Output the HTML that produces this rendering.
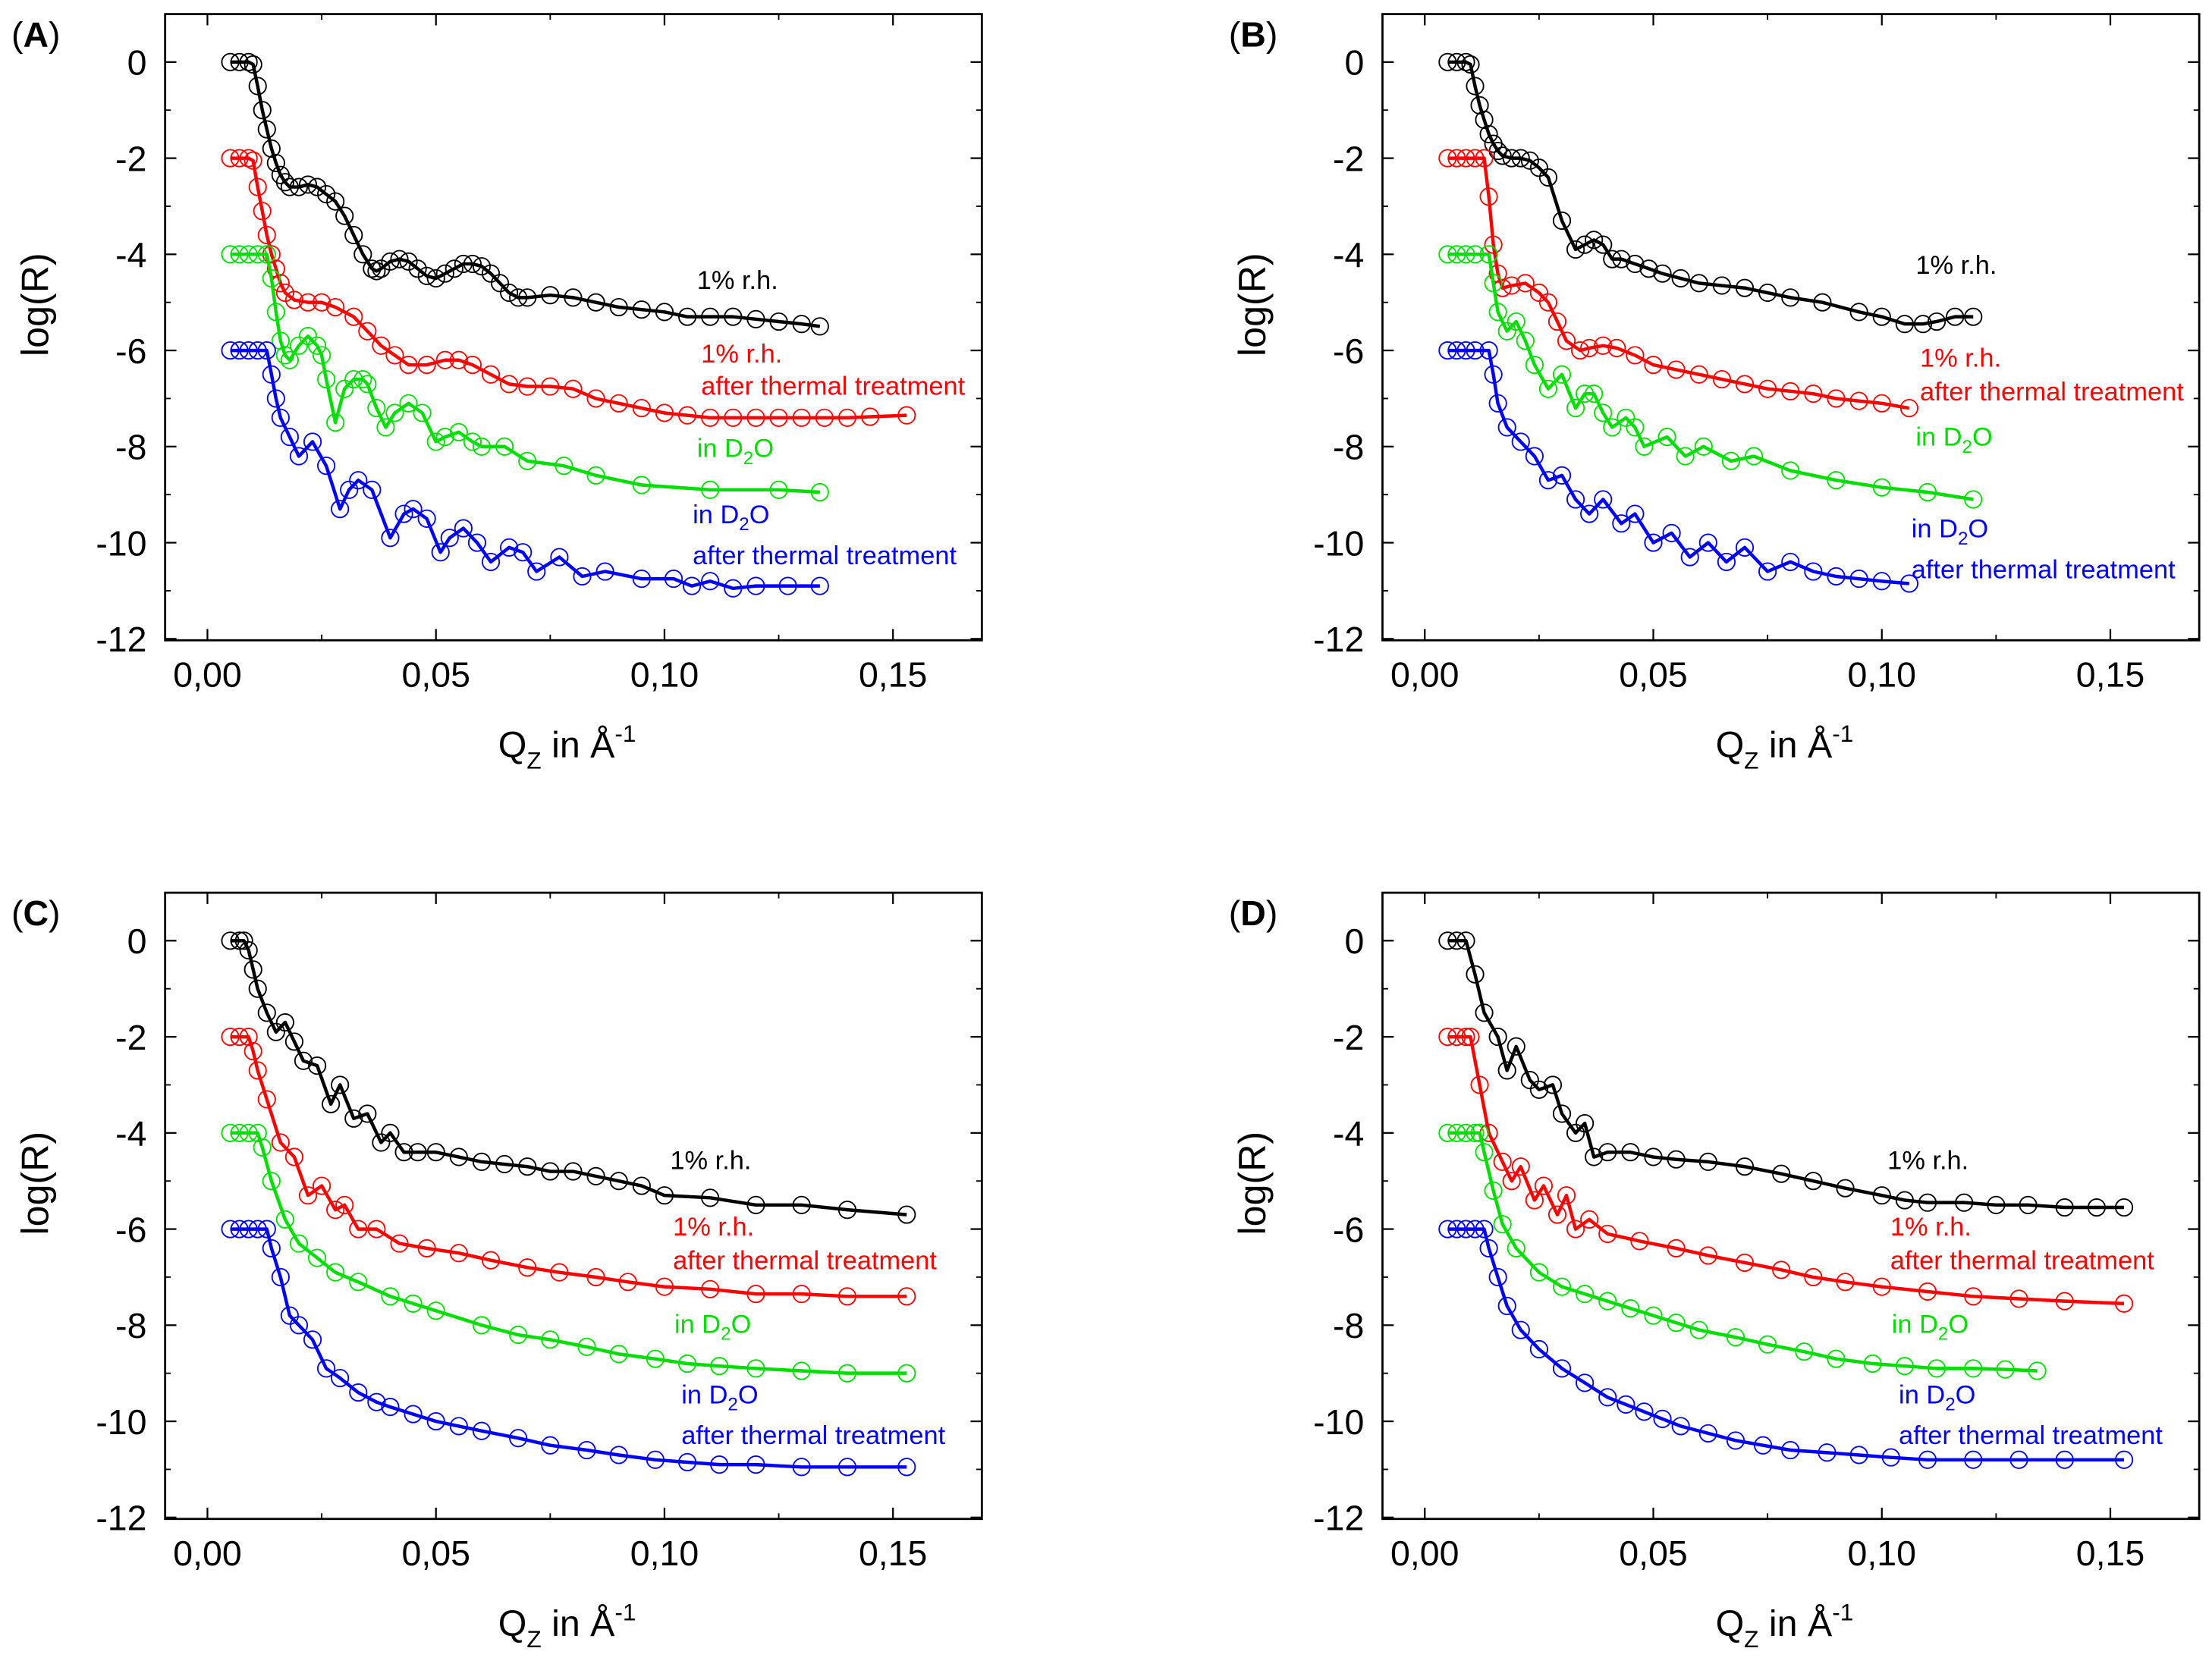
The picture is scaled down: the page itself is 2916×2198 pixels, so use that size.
<!DOCTYPE html>
<html><head><meta charset="utf-8">
<style>html,body{margin:0;padding:0;background:#fff}svg{display:block}text{font-family:"Liberation Sans",Arial,sans-serif}</style>
</head><body>
<svg id="fig" xmlns="http://www.w3.org/2000/svg" width="2916" height="2198" viewBox="0 0 1568 1182"></svg>
<script>
// Panel A data
const qA_k=[.005,.007,.009,.010,.011,.012,.013,.014,.015,.016,.017,.018,.020,.022,.024,.026,.028,.030,.032,.034,.036,.037,.038,.040,.042,.044,.046,.048,.050,.052,.054,.056,.058,.060,.062,.064,.066,.068,.070,.075,.080,.085,.090,.095,.100,.105,.110,.115,.120,.125,.130,.134];
const vA_k=[0,0,0,-0.05,-0.5,-1.0,-1.4,-1.8,-2.1,-2.35,-2.5,-2.6,-2.6,-2.55,-2.6,-2.75,-2.9,-3.2,-3.6,-4.0,-4.3,-4.35,-4.3,-4.15,-4.1,-4.15,-4.3,-4.45,-4.5,-4.4,-4.3,-4.2,-4.2,-4.25,-4.4,-4.6,-4.8,-4.9,-4.9,-4.85,-4.9,-5.0,-5.1,-5.15,-5.2,-5.3,-5.3,-5.3,-5.35,-5.4,-5.45,-5.5];
const qA_r=[.005,.007,.009,.010,.011,.012,.013,.014,.015,.016,.017,.019,.022,.025,.028,.032,.035,.038,.041,.044,.048,.052,.055,.058,.062,.066,.070,.075,.080,.085,.090,.095,.100,.105,.110,.115,.120,.125,.130,.135,.140,.145,.153];
const vA_r=[-2,-2,-2,-2.05,-2.6,-3.1,-3.6,-4.0,-4.3,-4.6,-4.8,-4.95,-5.0,-5.0,-5.1,-5.3,-5.6,-5.9,-6.1,-6.3,-6.3,-6.2,-6.2,-6.3,-6.5,-6.7,-6.75,-6.75,-6.8,-7.0,-7.1,-7.2,-7.3,-7.35,-7.4,-7.4,-7.4,-7.4,-7.4,-7.4,-7.4,-7.38,-7.35];
const qA_g=[.005,.007,.009,.011,.013,.014,.015,.016,.017,.018,.020,.022,.024,.025,.026,.028,.030,.032,.034,.035,.037,.039,.041,.044,.047,.050,.052,.055,.058,.060,.065,.070,.078,.085,.095,.110,.125,.134];
const vA_g=[-4,-4,-4,-4,-4,-4.5,-5.2,-5.8,-6.1,-6.2,-5.9,-5.7,-5.9,-6.1,-6.6,-7.5,-6.8,-6.6,-6.6,-6.7,-7.2,-7.6,-7.3,-7.1,-7.3,-7.9,-7.8,-7.7,-7.9,-8.0,-8.0,-8.3,-8.4,-8.6,-8.8,-8.9,-8.9,-8.95];
const qA_b=[.005,.007,.009,.011,.013,.014,.015,.016,.018,.020,.023,.026,.029,.031,.033,.036,.040,.043,.045,.048,.051,.053,.056,.059,.062,.066,.069,.072,.077,.082,.087,.095,.102,.106,.110,.115,.120,.127,.134];
const vA_b=[-6,-6,-6,-6,-6,-6.5,-7.0,-7.4,-7.8,-8.2,-7.9,-8.4,-9.3,-8.9,-8.7,-8.9,-9.9,-9.4,-9.3,-9.5,-10.2,-9.9,-9.7,-10.0,-10.4,-10.1,-10.2,-10.6,-10.3,-10.7,-10.6,-10.75,-10.75,-10.9,-10.8,-10.95,-10.9,-10.9,-10.9];
// Panel B data
const qB_k=[.005,.007,.009,.010,.011,.012,.013,.014,.015,.016,.017,.019,.021,.023,.025,.027,.030,.033,.035,.037,.039,.041,.043,.046,.049,.052,.056,.060,.065,.070,.075,.080,.087,.095,.100,.105,.109,.112,.116,.120];
const vB_k=[0,0,0,-0.05,-0.5,-0.9,-1.2,-1.5,-1.7,-1.85,-1.95,-2.0,-2.0,-2.05,-2.2,-2.4,-3.3,-3.9,-3.8,-3.7,-3.8,-4.1,-4.1,-4.2,-4.3,-4.4,-4.5,-4.6,-4.65,-4.7,-4.8,-4.9,-5.0,-5.2,-5.3,-5.45,-5.45,-5.4,-5.3,-5.3];
const qB_r=[.005,.007,.009,.011,.013,.014,.015,.016,.017,.019,.022,.025,.027,.029,.031,.034,.036,.039,.042,.046,.050,.055,.060,.065,.070,.075,.080,.085,.090,.095,.100,.106];
const vB_r=[-2,-2,-2,-2,-2,-2.8,-3.8,-4.4,-4.7,-4.65,-4.6,-4.8,-5.0,-5.4,-5.8,-6.0,-5.95,-5.9,-5.95,-6.1,-6.3,-6.4,-6.5,-6.6,-6.7,-6.8,-6.85,-6.9,-7.0,-7.05,-7.1,-7.2];
const qB_g=[.005,.007,.009,.011,.014,.015,.016,.018,.020,.022,.024,.027,.030,.033,.035,.037,.039,.041,.044,.046,.048,.053,.057,.061,.067,.072,.080,.090,.100,.110,.120];
const vB_g=[-4,-4,-4,-4,-4,-4.6,-5.2,-5.6,-5.4,-5.8,-6.3,-6.8,-6.5,-7.2,-6.9,-6.9,-7.3,-7.6,-7.4,-7.6,-8.0,-7.8,-8.2,-8.0,-8.3,-8.2,-8.5,-8.7,-8.85,-8.95,-9.1];
const qB_b=[.005,.007,.009,.011,.014,.015,.016,.018,.021,.024,.027,.030,.033,.036,.039,.043,.046,.050,.054,.058,.062,.066,.070,.075,.080,.085,.090,.095,.100,.106];
const vB_b=[-6,-6,-6,-6,-6,-6.5,-7.1,-7.6,-7.9,-8.2,-8.7,-8.6,-9.1,-9.4,-9.1,-9.6,-9.4,-10.0,-9.8,-10.3,-10.0,-10.4,-10.1,-10.6,-10.4,-10.6,-10.7,-10.75,-10.8,-10.85];
// Panel C data
const qC_k=[.005,.007,.008,.009,.010,.011,.013,.015,.017,.019,.021,.024,.027,.029,.032,.035,.038,.040,.043,.046,.050,.055,.060,.065,.070,.075,.080,.085,.090,.095,.100,.110,.120,.130,.140,.153];
const vC_k=[0,0,0,-0.2,-0.6,-1.0,-1.5,-1.9,-1.7,-2.1,-2.5,-2.6,-3.4,-3.0,-3.7,-3.6,-4.2,-4.0,-4.4,-4.4,-4.4,-4.5,-4.6,-4.65,-4.7,-4.8,-4.8,-4.9,-5.0,-5.1,-5.3,-5.35,-5.5,-5.5,-5.6,-5.7];
const qC_r=[.005,.007,.009,.010,.011,.013,.016,.019,.022,.025,.028,.030,.033,.037,.042,.048,.055,.062,.070,.077,.085,.092,.100,.110,.120,.130,.140,.153];
const vC_r=[-2,-2,-2,-2.3,-2.7,-3.3,-4.2,-4.5,-5.3,-5.1,-5.6,-5.5,-6.0,-6.0,-6.3,-6.4,-6.5,-6.65,-6.8,-6.9,-7.0,-7.1,-7.2,-7.25,-7.35,-7.35,-7.4,-7.4];
const qC_g=[.005,.007,.009,.011,.012,.014,.017,.020,.024,.028,.033,.040,.045,.050,.060,.068,.075,.083,.090,.098,.105,.112,.120,.130,.140,.153];
const vC_g=[-4,-4,-4,-4,-4.3,-5.0,-5.8,-6.3,-6.6,-6.9,-7.1,-7.4,-7.55,-7.7,-8.0,-8.2,-8.3,-8.45,-8.6,-8.7,-8.8,-8.85,-8.9,-8.95,-9.0,-9.0];
const qC_b=[.005,.007,.009,.011,.013,.014,.016,.018,.020,.023,.026,.029,.033,.037,.040,.045,.050,.055,.060,.068,.075,.083,.090,.098,.105,.112,.120,.130,.140,.153];
const vC_b=[-6,-6,-6,-6,-6,-6.4,-7.0,-7.8,-8.0,-8.3,-8.9,-9.1,-9.4,-9.6,-9.7,-9.85,-10.0,-10.1,-10.2,-10.35,-10.5,-10.6,-10.7,-10.8,-10.85,-10.9,-10.9,-10.95,-10.95,-10.95];
// Panel D data
const qD_k=[.005,.007,.009,.011,.013,.016,.018,.020,.023,.025,.028,.030,.033,.035,.037,.040,.045,.050,.055,.062,.070,.078,.085,.092,.100,.105,.110,.118,.125,.132,.140,.147,.153];
const vD_k=[0,0,0,-0.7,-1.5,-2.0,-2.7,-2.2,-2.9,-3.1,-3.0,-3.6,-4.0,-3.8,-4.5,-4.4,-4.4,-4.5,-4.55,-4.6,-4.7,-4.85,-5.0,-5.15,-5.3,-5.4,-5.45,-5.45,-5.5,-5.5,-5.55,-5.55,-5.55];
const qD_r=[.005,.007,.009,.010,.012,.014,.017,.019,.021,.024,.026,.029,.031,.033,.036,.040,.047,.055,.062,.070,.078,.085,.092,.100,.110,.120,.130,.140,.153];
const vD_r=[-2,-2,-2,-2,-3.0,-4.0,-4.6,-5.0,-4.7,-5.4,-5.1,-5.7,-5.3,-6.0,-5.8,-6.1,-6.25,-6.4,-6.55,-6.7,-6.85,-7.0,-7.1,-7.2,-7.3,-7.4,-7.45,-7.5,-7.55];
const qD_g=[.005,.007,.009,.011,.012,.013,.015,.017,.020,.025,.030,.035,.040,.045,.050,.055,.060,.068,.075,.083,.090,.098,.105,.112,.120,.127,.134];
const vD_g=[-4,-4,-4,-4,-4,-4.4,-5.2,-5.9,-6.4,-6.9,-7.2,-7.35,-7.5,-7.65,-7.8,-7.95,-8.1,-8.25,-8.4,-8.55,-8.7,-8.8,-8.85,-8.9,-8.9,-8.92,-8.95];
const qD_b=[.005,.007,.009,.011,.013,.014,.016,.018,.021,.025,.030,.035,.040,.044,.048,.052,.056,.062,.068,.074,.080,.088,.095,.102,.110,.120,.130,.140,.153];
const vD_b=[-6,-6,-6,-6,-6,-6.4,-7.0,-7.6,-8.1,-8.5,-8.9,-9.2,-9.5,-9.65,-9.8,-9.95,-10.1,-10.25,-10.4,-10.5,-10.6,-10.65,-10.7,-10.75,-10.8,-10.8,-10.8,-10.8,-10.8];
const yTickLabels=["0","-2","-4","-6","-8","-10","-12"];
const yTickValues=[0,-2,-4,-6,-8,-10,-12];
const xTickLabels=["0,00","0,05","0,10","0,15"];
const xTickValues=[0,0.05,0.10,0.15];

const NS="http://www.w3.org/2000/svg";
const svg=document.getElementById('fig');
function mk(tag,attrs,parent){const e=document.createElementNS(NS,tag);for(const k in attrs)e.setAttribute(k,attrs[k]);(parent||svg).appendChild(e);return e;}
const colors={k:"#000",r:"#f00",g:"#0d0",b:"#00f"};

const panels=[
 {id:"a",letter:"A",ox:0,oy:0,series:[["k",qA_k,vA_k],["r",qA_r,vA_r],["g",qA_g,vA_g],["b",qA_b,vA_b]],
  labels:[["k",494,205,"1% r.h."],["r",497,257,"1% r.h."],["r",497,280,"after thermal treatment"],["g",494,324,"in D","2","O"],["b",491,371,"in D","2","O"],["b",491,400,"after thermal treatment"]]},
 {id:"b",letter:"B",ox:863,oy:0,series:[["k",qB_k,vB_k],["r",qB_r,vB_r],["g",qB_g,vB_g],["b",qB_b,vB_b]],
  labels:[["k",495,194,"1% r.h."],["r",498,260,"1% r.h."],["r",498,284,"after thermal treatment"],["g",495,316,"in D","2","O"],["b",492,381,"in D","2","O"],["b",492,410,"after thermal treatment"]]},
 {id:"c",letter:"C",ox:0,oy:623,series:[["k",qC_k,vC_k],["r",qC_r,vC_r],["g",qC_g,vC_g],["b",qC_b,vC_b]],
  labels:[["k",475,206,"1% r.h."],["r",477,253,"1% r.h."],["r",477,277,"after thermal treatment"],["g",478,322,"in D","2","O"],["b",483,372,"in D","2","O"],["b",483,401,"after thermal treatment"]]},
 {id:"d",letter:"D",ox:863,oy:623,series:[["k",qD_k,vD_k],["r",qD_r,vD_r],["g",qD_g,vD_g],["b",qD_b,vD_b]],
  labels:[["k",475,206,"1% r.h."],["r",477,253,"1% r.h."],["r",477,277,"after thermal treatment"],["g",478,322,"in D","2","O"],["b",483,372,"in D","2","O"],["b",483,401,"after thermal treatment"]]}
];

panels.forEach(p=>{
  const g=mk('g',{transform:`translate(${p.ox},${p.oy})`});
  
  
  const X=q=>147+q*3240, Y=v=>44-v*34.08;
  const L=117,R=696,T=10,B=454;
  const frame=mk('rect',{x:L,y:T,width:R-L,height:B-T,fill:"none",stroke:"#000","stroke-width":1.5},g);
  
  
  yTickValues.forEach((v,i)=>{
    const y=Y(v);
    mk('line',{x1:L,x2:L+8,y1:y,y2:y,stroke:"#000","stroke-width":1.2},g);
    mk('line',{x1:R,x2:R-8,y1:y,y2:y,stroke:"#000","stroke-width":1.2},g);
    if(v>-12){const ym=Y(v-1);mk('line',{x1:L,x2:L+4,y1:ym,y2:ym,stroke:"#000","stroke-width":1},g);mk('line',{x1:R,x2:R-4,y1:ym,y2:ym,stroke:"#000","stroke-width":1},g);}
    const t=mk('text',{x:104,y:y+9,"text-anchor":"end","font-size":25},g);t.textContent=yTickLabels[i];
    
    
  });
  xTickValues.forEach((q,i)=>{
    const x=X(q);
    mk('line',{x1:x,x2:x,y1:B,y2:B-8,stroke:"#000","stroke-width":1.2},g);
    mk('line',{x1:x,x2:x,y1:T,y2:T+8,stroke:"#000","stroke-width":1.2},g);
    const xm=X(q+0.025);
    if(xm<R){mk('line',{x1:xm,x2:xm,y1:B,y2:B-4,stroke:"#000","stroke-width":1},g);mk('line',{x1:xm,x2:xm,y1:T,y2:T+4,stroke:"#000","stroke-width":1},g);}
    const t=mk('text',{x:x,y:487,"text-anchor":"middle","font-size":25},g);t.textContent=xTickLabels[i];
    
    
  });
  const xt=mk('text',{x:402,y:537,"text-anchor":"middle","font-size":26},g);
  
  
  xt.innerHTML='Q<tspan font-size="17" dy="8">Z</tspan><tspan dy="-8"> in Å</tspan><tspan font-size="17" dy="-11">-1</tspan>';
  const yt=mk('text',{x:0,y:0,"text-anchor":"middle","font-size":27,transform:"translate(34,216) rotate(-90)"},g);
  yt.textContent="log(R)";
  
  
  const pl=mk('text',{x:8,y:33,"font-size":25},g);
  pl.innerHTML='(<tspan font-weight="bold">'+p.letter+'</tspan>)';
  
  
  p.series.forEach(([c,qs,vs])=>{
    const col=colors[c];
    const pts=qs.map((q,i)=>X(q).toFixed(1)+","+Y(vs[i]).toFixed(1)).join(" ");
    const line=mk('polyline',{points:pts,fill:"none",stroke:col,"stroke-width":2.4,"stroke-linejoin":"round"},g);
    
    
    qs.forEach((q,i)=>{
      const ci=mk('circle',{cx:X(q),cy:Y(vs[i]),r:6,fill:"none",stroke:col,"stroke-width":1},g);
      
      
    });
  });
  p.labels.forEach(l=>{
    const t=mk('text',{x:l[1],y:l[2],"font-size":18.5,fill:colors[l[0]]},g);
    if(l.length>4){t.innerHTML=l[3]+'<tspan font-size="13" dy="5">'+l[4]+'</tspan><tspan dy="-5">'+l[5]+'</tspan>';}
    else t.textContent=l[3];
    
    
  });
});
</script>
</body></html>
